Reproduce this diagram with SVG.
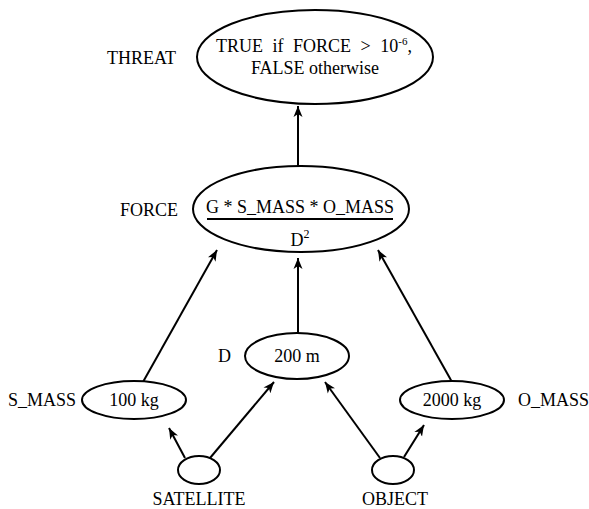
<svg xmlns="http://www.w3.org/2000/svg" width="589" height="509" viewBox="0 0 589 509">
<defs>
<marker id="arr" markerWidth="12" markerHeight="10" refX="11" refY="5" orient="auto" markerUnits="userSpaceOnUse">
<path d="M0,0.5 L11,5 L0,9.5 L3,5 Z" fill="#000"/>
</marker>
<style>
.n{fill:#fff;stroke:#000;stroke-width:2}
.t{font-family:"Liberation Serif","Times New Roman",serif;font-size:18px;fill:#000}
.m{text-anchor:middle}
.c{stroke:#000;stroke-width:2;fill:none;marker-end:url(#arr)}
</style>
</defs>
<rect width="589" height="509" fill="#fff"/>
<g id="connectors">
<line class="c" x1="298" y1="166" x2="298" y2="106"/>
<line class="c" x1="298" y1="333" x2="298" y2="258"/>
<line class="c" x1="143" y1="382" x2="217" y2="250"/>
<line class="c" x1="452" y1="382" x2="378" y2="250"/>
<line class="c" x1="185" y1="458" x2="169" y2="428"/>
<line class="c" x1="210" y1="458" x2="274" y2="382"/>
<line class="c" x1="380" y1="458" x2="325" y2="382"/>
<line class="c" x1="404" y1="457" x2="424" y2="425"/>
</g>
<g id="threat">
<ellipse class="n" cx="315" cy="57" rx="118" ry="47"/>
<text class="t" x="107" y="64">THREAT</text>
<text class="t m" x="314" y="52" word-spacing="5">TRUE if FORCE &gt; 10<tspan font-size="11" dy="-7">-6</tspan><tspan dy="7">,</tspan></text>
<text class="t m" x="315" y="74">FALSE otherwise</text>
</g>
<g id="force">
<ellipse class="n" cx="301" cy="209" rx="108" ry="43"/>
<text class="t" x="120" y="216">FORCE</text>
<text class="t m" x="300" y="213">G * S_MASS * O_MASS</text>
<line x1="207" y1="219" x2="393" y2="219" stroke="#000" stroke-width="2"/>
<text class="t m" x="300" y="246">D<tspan font-size="12" dy="-8">2</tspan></text>
</g>
<g id="d">
<ellipse class="n" cx="297" cy="356" rx="52" ry="23"/>
<text class="t" x="218" y="362">D</text>
<text class="t m" x="297" y="362">200 m</text>
</g>
<g id="s_mass">
<ellipse class="n" cx="134" cy="400" rx="52" ry="19"/>
<text class="t" x="8" y="406">S_MASS</text>
<text class="t m" x="134" y="406">100 kg</text>
</g>
<g id="o_mass">
<ellipse class="n" cx="452" cy="400" rx="52" ry="19"/>
<text class="t" x="518" y="406">O_MASS</text>
<text class="t m" x="452" y="406">2000 kg</text>
</g>
<g id="satellite">
<ellipse class="n" cx="199" cy="470" rx="21" ry="14"/>
<text class="t m" x="199" y="505">SATELLITE</text>
</g>
<g id="object">
<ellipse class="n" cx="393" cy="470" rx="21" ry="14"/>
<text class="t m" x="395" y="505">OBJECT</text>
</g>
</svg>
